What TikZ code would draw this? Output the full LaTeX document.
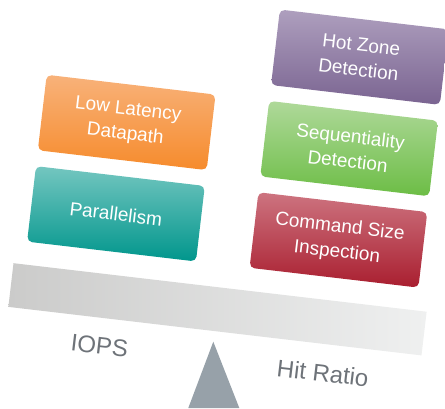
\documentclass[tikz,border=0pt]{standalone}
\usepackage{fontspec}
\setmainfont{Liberation Sans}
\definecolor{orangeBase}{HTML}{F68B2C}
\definecolor{orangeTop}{HTML}{F8B27A}
\definecolor{tealBase}{HTML}{00968C}
\definecolor{tealTop}{HTML}{74C6C0}
\definecolor{purpleBase}{HTML}{7A6491}
\definecolor{purpleTop}{HTML}{AE9FBE}
\definecolor{greenBase}{HTML}{6CBD45}
\definecolor{greenTop}{HTML}{AFD99A}
\definecolor{redBase}{HTML}{A91E2F}
\definecolor{redTop}{HTML}{CD7480}
\definecolor{beamGray}{HTML}{CBCBCA}
\definecolor{beamLight}{HTML}{EFF0F0}
\definecolor{pivotGray}{HTML}{97A1A9}
\definecolor{labelGray}{HTML}{6E7379}
\begin{document}
\begin{tikzpicture}[x=1pt, y=1pt]
        \tikzstyle{box} = [rectangle, rounded corners=5pt, minimum width=170pt, minimum height=76pt, align=center, inner sep=2pt, text=white, font=\fontsize{19}{25}\selectfont]
        \tikzstyle{side} = [text=labelGray, font=\fontsize{24}{28}\selectfont]
        \useasboundingbox (0, 0) rectangle (445, 408);
        % pivot
        \fill[pivotGray] (213.3, 66.3) -- (239.3, 0) -- (188.3, 0) -- cycle;
        \begin{scope}[shift={(217.5, 98.7)}, rotate=-6.7, transform shape]
        \node[rectangle, minimum width=416pt, minimum height=44pt, inner sep=0pt, left color=beamGray, middle color=beamGray, right color=beamLight] (beam) at (0, 0) {};
        \node[box, top color=tealTop, middle color=tealBase, bottom color=tealBase] (par) at (-112, 83) {Parallelism};
        \node[box, top color=orangeTop, middle color=orangeBase, bottom color=orangeBase] (lat) at (-112, 175) {Low Latency\\Datapath};
        \node[box, top color=redTop, middle color=redBase, bottom color=redBase] (cmd) at (112, 83) {Command Size\\Inspection};
        \node[box, top color=greenTop, middle color=greenBase, bottom color=greenBase] (seq) at (112, 175) {Sequentiality\\Detection};
        \node[box, top color=purpleTop, middle color=purpleBase, bottom color=purpleBase] (hot) at (112, 267) {Hot Zone\\Detection};
        \node[side] (iops) at (-113, -50) {IOPS};
        \node[side] (hit) at (112, -51) {Hit Ratio};
        \end{scope}
      \end{tikzpicture}
\end{document}
